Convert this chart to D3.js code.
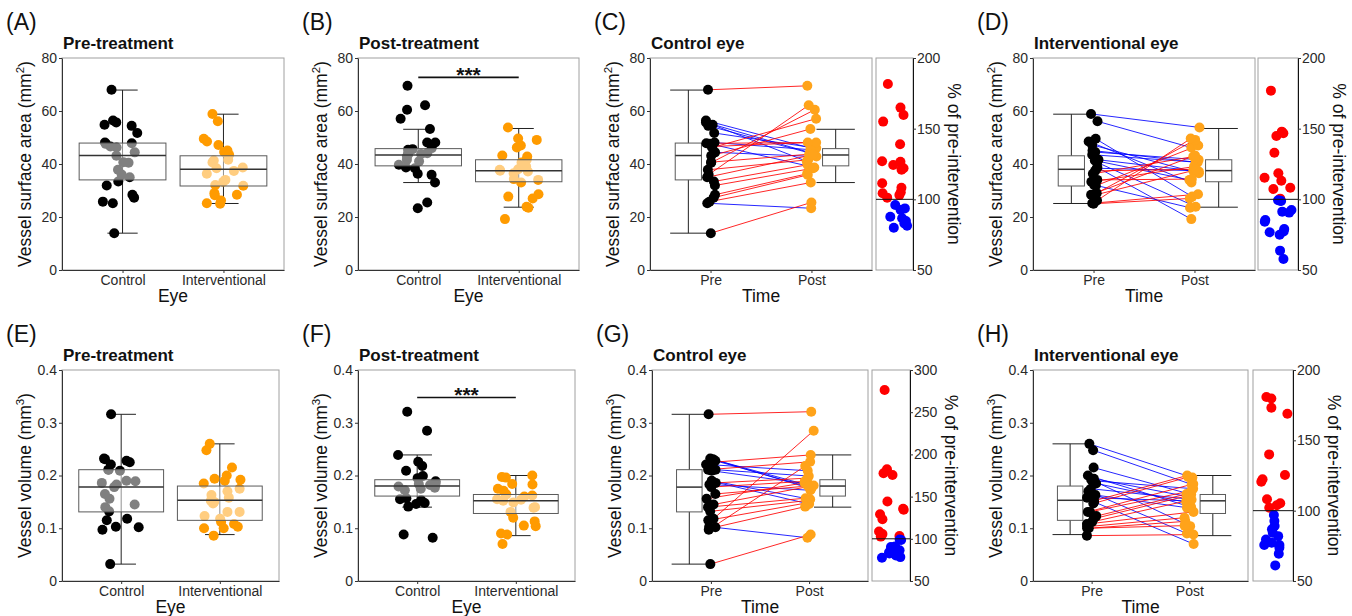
<!DOCTYPE html>
<html>
<head>
<meta charset="utf-8">
<script src="https://cdn.jsdelivr.net/npm/d3@7"></script>
<style>
  body { margin: 0; background: #fff; }
</style>
</head>
<body>
<script>
  // ---- categories and ticks ----
  const eyes = ["Control", "Interventional"];
  const times = ["Pre", "Post"];
  const areaTicks = [0, 20, 40, 60, 80];
  const volTicks = [0, 0.1, 0.2, 0.3, 0.4];
  const pctTicks = [50, 100, 150, 200];
  const pctTicksWide = [50, 100, 150, 200, 250, 300];

  // ---- vessel surface area (mm2), pre[i] and post[i] are the same eye ----
  const areaCtrlPre  = [68.0, 56.4, 55.7, 54.8, 54.4, 51.7, 48.1, 47.8, 47.6, 46.6, 44.4, 25.2, 46.2, 43.1, 40.7, 40.5, 37.8, 36.0, 35.0, 33.4, 31.9, 28.4, 27.3, 25.8, 13.9];
  const areaCtrlPost = [69.5, 45.6, 43.8, 41.0, 44.1, 46.0, 45.4, 48.1, 38.7, 48.1, 42.8, 23.3, 57.1, 53.2, 43.7, 60.5, 41.6, 62.2, 43.5, 39.7, 38.4, 36.3, 35.9, 33.0, 25.5];
  const areaIntPre   = [58.9, 56.1, 49.5, 48.5, 47.2, 45.1, 44.5, 43.5, 41.6, 41.3, 40.6, 38.7, 38.4, 32.1, 37.4, 36.3, 34.0, 33.3, 31.8, 29.0, 28.4, 28.2, 26.2, 25.2, 25.0];
  const areaIntPost  = [53.8, 46.2, 27.7, 33.0, 36.5, 40.6, 41.6, 40.7, 37.2, 34.0, 23.9, 19.2, 37.5, 23.5, 38.0, 42.8, 34.3, 39.0, 47.0, 49.1, 43.2, 37.8, 49.6, 28.6, 27.0];

  // ---- vessel volume (mm3) ----
  const volCtrlPre  = [0.316, 0.232, 0.231, 0.228, 0.225, 0.221, 0.211, 0.211, 0.209, 0.190, 0.189, 0.186, 0.183, 0.178, 0.165, 0.156, 0.145, 0.140, 0.132, 0.118, 0.115, 0.103, 0.102, 0.097, 0.032];
  const volCtrlPost = [0.321, 0.182, 0.175, 0.177, 0.239, 0.209, 0.199, 0.226, 0.184, 0.155, 0.146, 0.195, 0.172, 0.189, 0.181, 0.186, 0.179, 0.157, 0.153, 0.285, 0.148, 0.082, 0.141, 0.218, 0.088];
  const volIntPre   = [0.260, 0.248, 0.215, 0.200, 0.194, 0.192, 0.190, 0.185, 0.175, 0.170, 0.163, 0.158, 0.150, 0.152, 0.147, 0.131, 0.131, 0.123, 0.118, 0.112, 0.108, 0.103, 0.100, 0.100, 0.086];
  const volIntPost  = [0.196, 0.183, 0.164, 0.140, 0.160, 0.104, 0.175, 0.149, 0.155, 0.090, 0.139, 0.152, 0.070, 0.200, 0.197, 0.184, 0.171, 0.165, 0.162, 0.154, 0.131, 0.120, 0.113, 0.105, 0.088];

  // ---- % of pre-intervention ----
  const pctAreaCtrl = [181.6, 164.9, 159.7, 155.0, 139.0, 127.0, 126.6, 124.3, 122.0, 121.0, 111.4, 108.2, 105.0, 104.3, 103.0, 101.2, 96.0, 93.6, 92.5, 87.7, 86.6, 84.7, 83.0, 81.3, 79.9];
  const pctAreaInt  = [176.9, 147.9, 146.7, 144.8, 133.0, 118.4, 115.3, 113.2, 108.2, 107.3, 100.5, 98.8, 99.3, 99.0, 92.5, 90.6, 85.4, 84.2, 79.0, 76.7, 77.2, 74.9, 63.7, 57.8, 91.3];
  const pctVolCtrl  = [276.3, 182.3, 177.6, 175.6, 144.2, 135.6, 134.4, 129.0, 123.1, 108.7, 105.6, 104.0, 103.3, 102.6, 99.2, 98.5, 91.0, 90.3, 87.6, 86.4, 84.0, 82.5, 80.2, 78.3, 77.6];
  const pctVolInt   = [180.8, 179.8, 173.2, 168.9, 140.0, 125.3, 122.3, 120.6, 108.1, 105.3, 103.8, 102.1, 96.9, 92.6, 89.1, 86.8, 84.3, 81.9, 79.5, 77.2, 75.6, 75.6, 73.7, 69.4, 61.1];

  // ---- box summaries: [lower whisker, q1, median, q3, upper whisker] ----
  const boxAreaCtrlPre  = [13.9, 34.0, 43.2, 47.9, 67.9];
  const boxAreaIntPre   = [25.1, 31.7, 38.0, 43.1, 58.8];
  const boxAreaCtrlPost = [33.0, 39.3, 43.4, 45.8, 53.1];
  const boxAreaIntPost  = [23.7, 33.3, 37.5, 41.6, 53.4];
  const boxVolCtrlPre   = [0.032, 0.131, 0.178, 0.211, 0.316];
  const boxVolIntPre    = [0.088, 0.115, 0.153, 0.180, 0.260];
  const boxVolCtrlPost  = [0.140, 0.161, 0.180, 0.192, 0.239];
  const boxVolIntPost   = [0.086, 0.128, 0.152, 0.164, 0.200];

  // significance bars (height in data units)
  const sigArea = 72.7;
  const sigVol = 0.348;
  const sigLabel = "***";

  const FONT = "'Liberation Sans', Arial, sans-serif";
  const rows = [{ y0: 58, y1: 270 }, { y0: 370, y1: 581 }];
  const fmtArea = d3.format("d");
  const fmtVol = d => d === 0 ? "0" : d3.format(".1f")(d);

  const svg = d3.select("body").append("svg")
    .attr("width", 1352).attr("height", 616)
    .style("font-family", FONT);

  function styleAxis(ax) {
    ax.attr("font-size", 14).attr("font-family", FONT);
    ax.select(".domain").attr("stroke", "#333");
    ax.selectAll(".tick line").attr("stroke", "#333");
    ax.selectAll(".tick text").attr("fill", "#2a2a2a");
  }

  function header(g, x0, y0, letter, title) {
    g.append("text").attr("x", x0 - 56).attr("y", y0 - 28)
      .attr("font-size", 23).attr("fill", "#111").text(`(${letter})`);
    g.append("text").attr("x", x0 + 1).attr("y", y0 - 9)
      .attr("font-size", 17).attr("font-weight", "bold").attr("fill", "#111").text(title);
  }

  function yTitle(g, x, yc, main, sup) {
    const t = g.append("text").attr("transform", `translate(${x},${yc}) rotate(-90)`)
      .attr("text-anchor", "middle").attr("font-size", 17.5).attr("fill", "#111");
    t.append("tspan").text(main + " (mm");
    t.append("tspan").attr("dy", -7).attr("font-size", 11.5).text(sup);
    t.append("tspan").attr("dy", 7).text(")");
  }

  function frameAndAxes(g, x, y, p, y0, y1, xTitle) {
    g.append("rect").attr("x", p.x0).attr("y", y0)
      .attr("width", p.x1 - p.x0).attr("height", y1 - y0)
      .attr("fill", "none").attr("stroke", "#a0a0a0");
    const ax = g.append("g").attr("transform", `translate(${p.x0},0)`)
      .call(d3.axisLeft(y).tickValues(p.ticks).tickFormat(p.fmt).tickSize(3).tickPadding(2).tickSizeOuter(0));
    styleAxis(ax);
    const bx = g.append("g").attr("transform", `translate(0,${y1})`)
      .call(d3.axisBottom(x).tickSize(3).tickPadding(2).tickSizeOuter(0));
    styleAxis(bx);
    g.append("text").attr("x", (p.x0 + p.x1) / 2).attr("y", y1 + 32)
      .attr("text-anchor", "middle").attr("font-size", 17.5).attr("fill", "#111").text(xTitle);
    yTitle(g, p.x0 - 31, (y0 + y1) / 2, p.yMain, p.sup);
    header(g, p.x0, y0, p.letter, p.title);
  }

  function whisker(g, cx, y, b, cap) {
    const [lo, , , , hi] = b;
    g.append("line").attr("x1", cx).attr("x2", cx).attr("y1", y(lo)).attr("y2", y(hi))
      .attr("stroke", "#222");
    [lo, hi].forEach(v => g.append("line")
      .attr("x1", cx - cap / 2).attr("x2", cx + cap / 2).attr("y1", y(v)).attr("y2", y(v))
      .attr("stroke", "#222"));
  }

  function box(g, cx, y, b, bw, fillOpacity) {
    const [, q1, med, q3] = b;
    g.append("rect").attr("x", cx - bw / 2).attr("y", y(q3))
      .attr("width", bw).attr("height", y(q1) - y(q3))
      .attr("fill", "#fff").attr("fill-opacity", fillOpacity).attr("stroke", "#5a5a5a");
    g.append("line").attr("x1", cx - bw / 2).attr("x2", cx + bw / 2)
      .attr("y1", y(med)).attr("y2", y(med)).attr("stroke", "#333").attr("stroke-width", 1.5);
  }

  // box plot of the two eyes at one time point
  function boxPanel(p) {
    const { y0, y1 } = rows[p.row];
    const g = svg.append("g");
    const x = d3.scalePoint().domain(eyes).range([p.x0, p.x1]).padding(0.6);
    const y = d3.scaleLinear().domain(p.yDomain).range([y1, y0]);
    const step = x.step();
    p.groups.forEach((grp, k) => {
      const cx = x(eyes[k]);
      const jit = d3.randomUniform.source(d3.randomLcg(p.seed + k))(-0.21, 0.21);
      whisker(g, cx, y, grp.box, step * 0.3);
      g.append("g").selectAll("circle").data(grp.vals).join("circle")
        .attr("cx", () => cx + jit() * step).attr("cy", d => y(d))
        .attr("r", 5).attr("fill", grp.color);
      box(g, cx, y, grp.box, step * 0.86, 0.5);
    });
    if (p.sig !== undefined) {
      g.append("line").attr("x1", x(eyes[0])).attr("x2", x(eyes[1]))
        .attr("y1", y(p.sig)).attr("y2", y(p.sig)).attr("stroke", "#111").attr("stroke-width", 1.6);
      g.append("text").attr("x", (x(eyes[0]) + x(eyes[1])) / 2).attr("y", y(p.sig) + 5)
        .attr("text-anchor", "middle").attr("font-size", 21).attr("font-weight", "bold")
        .attr("fill", "#111").text(sigLabel);
    }
    frameAndAxes(g, x, y, p, y0, y1, "Eye");
  }

  // pre/post paired lines with the % change strip on the right
  function pairedPanel(p) {
    const { y0, y1 } = rows[p.row];
    const g = svg.append("g");
    const x = d3.scalePoint().domain(times).range([p.x0, p.x1]).padding(0.6);
    const y = d3.scaleLinear().domain(p.yDomain).range([y1, y0]);
    const step = x.step();

    const preBoxX = x("Pre") - 0.22 * step;
    const postBoxX = x("Post") + 0.24 * step;
    whisker(g, preBoxX, y, p.boxPre, step * 0.36);
    box(g, preBoxX, y, p.boxPre, step * 0.26, 1);
    whisker(g, postBoxX, y, p.boxPost, step * 0.38);
    box(g, postBoxX, y, p.boxPost, step * 0.26, 1);

    const jit = d3.randomUniform.source(d3.randomLcg(p.seed))(-0.05, 0.05);
    const pairs = p.pre.map((v, i) => ({
      pre: v, post: p.post[i],
      xa: x("Pre") + jit() * step, xb: x("Post") + jit() * step
    }));
    g.append("g").selectAll("line").data(pairs).join("line")
      .attr("x1", d => d.xa).attr("y1", d => y(d.pre))
      .attr("x2", d => d.xb).attr("y2", d => y(d.post))
      .attr("stroke", d => d.post >= d.pre ? "#ff0000" : "#0000ff")
      .attr("stroke-width", 1).attr("stroke-opacity", 0.85);
    g.append("g").selectAll("circle").data(pairs).join("circle")
      .attr("cx", d => d.xa).attr("cy", d => y(d.pre)).attr("r", 5).attr("fill", "#000");
    g.append("g").selectAll("circle").data(pairs).join("circle")
      .attr("cx", d => d.xb).attr("cy", d => y(d.post)).attr("r", 5).attr("fill", "#ffa31a");

    frameAndAxes(g, x, y, p, y0, y1, "Time");

    // % of pre-intervention strip
    const yr = d3.scaleLinear().domain(p.pctDomain).range([y1, y0]);
    const w = p.rx1 - p.rx0;
    const jr = d3.randomUniform.source(d3.randomLcg(p.seed + 7))(-0.36, 0.36);
    g.append("rect").attr("x", p.rx0).attr("y", y0).attr("width", w).attr("height", y1 - y0)
      .attr("fill", "none").attr("stroke", "#a0a0a0");
    g.append("g").selectAll("circle").data(p.pct).join("circle")
      .attr("cx", () => p.rx0 + w / 2 + jr() * w).attr("cy", d => yr(d)).attr("r", 5)
      .attr("fill", d => d >= 100 ? "#ff0000" : "#0000ff");
    g.append("line").attr("x1", p.rx0).attr("x2", p.rx1)
      .attr("y1", yr(100)).attr("y2", yr(100)).attr("stroke", "#111");
    const ra = g.append("g").attr("transform", `translate(${p.rx1},0)`)
      .call(d3.axisRight(yr).tickValues(p.pctTicks).tickSize(3).tickPadding(1).tickSizeOuter(0));
    styleAxis(ra);
    ra.select(".domain").attr("stroke", "#111");
    g.append("text").attr("transform", `translate(${p.rx1 + 35},${(y0 + y1) / 2}) rotate(90)`)
      .attr("text-anchor", "middle").attr("font-size", 17.5).attr("fill", "#111")
      .text("% of pre-intervention");
  }

  const areaAxis = { yDomain: [0, 80], ticks: areaTicks, fmt: fmtArea, yMain: "Vessel surface area", sup: "2" };
  const volAxis = { yDomain: [0, 0.4], ticks: volTicks, fmt: fmtVol, yMain: "Vessel volume", sup: "3" };

  boxPanel({ ...areaAxis, letter: "A", title: "Pre-treatment", row: 0, x0: 62, x1: 284, seed: 11,
    groups: [{ vals: areaCtrlPre, box: boxAreaCtrlPre, color: "#000" },
             { vals: areaIntPre, box: boxAreaIntPre, color: "#ff9b00" }] });
  boxPanel({ ...areaAxis, letter: "B", title: "Post-treatment", row: 0, x0: 358, x1: 579, seed: 23, sig: sigArea,
    groups: [{ vals: areaCtrlPost, box: boxAreaCtrlPost, color: "#000" },
             { vals: areaIntPost, box: boxAreaIntPost, color: "#ff9b00" }] });
  pairedPanel({ ...areaAxis, letter: "C", title: "Control eye", row: 0, x0: 650, x1: 872, rx0: 876, rx1: 913, seed: 31,
    pre: areaCtrlPre, post: areaCtrlPost, boxPre: boxAreaCtrlPre, boxPost: boxAreaCtrlPost,
    pct: pctAreaCtrl, pctDomain: [50, 200], pctTicks: pctTicks });
  pairedPanel({ ...areaAxis, letter: "D", title: "Interventional eye", row: 0, x0: 1033, x1: 1255, rx0: 1258, rx1: 1298, seed: 41,
    pre: areaIntPre, post: areaIntPost, boxPre: boxAreaIntPre, boxPost: boxAreaIntPost,
    pct: pctAreaInt, pctDomain: [50, 200], pctTicks: pctTicks });

  boxPanel({ ...volAxis, letter: "E", title: "Pre-treatment", row: 1, x0: 62, x1: 279, seed: 53,
    groups: [{ vals: volCtrlPre, box: boxVolCtrlPre, color: "#000" },
             { vals: volIntPre, box: boxVolIntPre, color: "#ff9b00" }] });
  boxPanel({ ...volAxis, letter: "F", title: "Post-treatment", row: 1, x0: 358, x1: 575, seed: 61, sig: sigVol,
    groups: [{ vals: volCtrlPost, box: boxVolCtrlPost, color: "#000" },
             { vals: volIntPost, box: boxVolIntPost, color: "#ff9b00" }] });
  pairedPanel({ ...volAxis, letter: "G", title: "Control eye", row: 1, x0: 652, x1: 868, rx0: 872, rx1: 910, seed: 71,
    pre: volCtrlPre, post: volCtrlPost, boxPre: boxVolCtrlPre, boxPost: boxVolCtrlPost,
    pct: pctVolCtrl, pctDomain: [50, 300], pctTicks: pctTicksWide });
  pairedPanel({ ...volAxis, letter: "H", title: "Interventional eye", row: 1, x0: 1033, x1: 1248, rx0: 1253, rx1: 1293, seed: 83,
    pre: volIntPre, post: volIntPost, boxPre: boxVolIntPre, boxPost: boxVolIntPost,
    pct: pctVolInt, pctDomain: [50, 200], pctTicks: pctTicks });
</script>
</body>
</html>
